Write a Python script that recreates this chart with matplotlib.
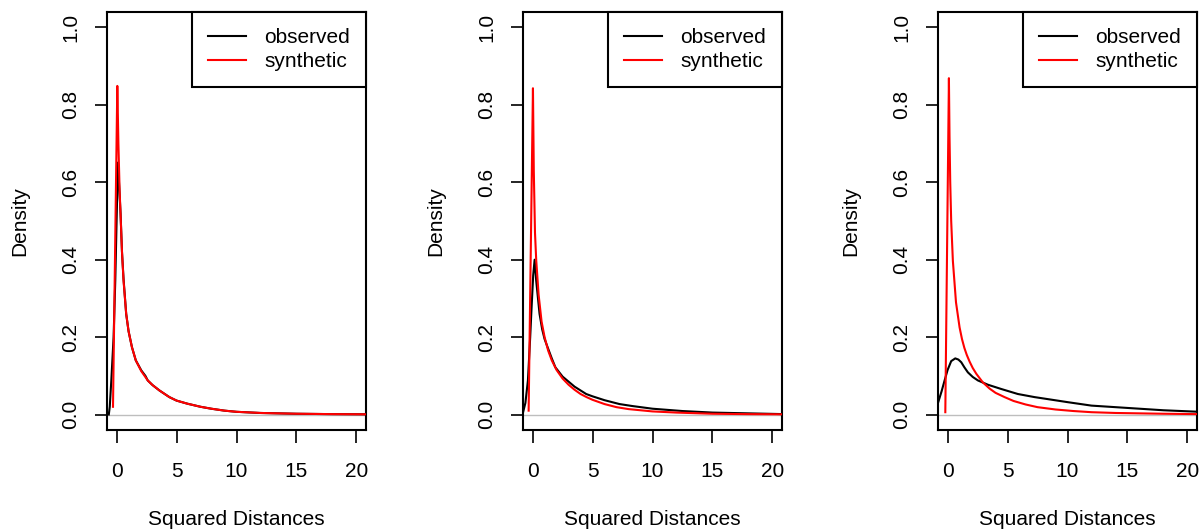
import matplotlib
matplotlib.use("Agg")
import matplotlib.pyplot as plt

plt.rcParams['font.family'] = ['Liberation Sans', 'DejaVu Sans']

# values (density curves of squared distances)
obs1_x = [-0.65, -0.57, -0.44, -0.25, -0.11, 0.0, 0.11, 0.2, 0.33, 0.45, 0.58, 0.8, 1.0, 1.28, 1.6, 2.06, 2.4, 2.6, 3.0, 3.58, 4.4, 5.0, 5.9, 7.0, 7.9, 9.0, 10.0, 12.0, 15.0, 18.0, 21.0]
obs1_y = [0.0, 0.02, 0.088, 0.20, 0.346, 0.50, 0.651, 0.60, 0.52, 0.42, 0.35, 0.26, 0.215, 0.174, 0.14, 0.114, 0.10, 0.088, 0.076, 0.062, 0.045, 0.036, 0.028, 0.02, 0.015, 0.010, 0.007, 0.004, 0.002, 0.001, 0.0005]
syn1_x = [-0.3, 0.06, 0.15, 0.25, 0.33, 0.45, 0.58, 0.8, 1.0, 1.28, 1.6, 2.06, 2.6, 3.0, 3.58, 4.4, 5.0, 5.9, 7.0, 7.9, 9.0, 10.0, 12.0, 15.0, 18.0, 21.0]
syn1_y = [0.02, 0.849, 0.70, 0.58, 0.518, 0.42, 0.346, 0.26, 0.215, 0.174, 0.14, 0.112, 0.088, 0.076, 0.062, 0.045, 0.036, 0.028, 0.02, 0.015, 0.010, 0.007, 0.004, 0.002, 0.001, 0.0005]

obs2_x = [-0.8, -0.6, -0.39, -0.2, -0.11, 0.05, 0.17, 0.3, 0.45, 0.58, 0.8, 1.0, 1.25, 1.6, 1.9, 2.5, 3.0, 3.5, 4.47, 5.0, 6.0, 7.25, 8.3, 10.0, 12.5, 15.0, 18.0, 21.0]
obs2_y = [0.005, 0.03, 0.088, 0.20, 0.26, 0.36, 0.40, 0.346, 0.30, 0.26, 0.22, 0.195, 0.174, 0.145, 0.122, 0.098, 0.085, 0.072, 0.053, 0.047, 0.037, 0.027, 0.022, 0.015, 0.009, 0.005, 0.003, 0.001]
syn2_x = [-0.33, 0.03, 0.1, 0.2, 0.3, 0.5, 0.75, 1.0, 1.3, 1.6, 2.0, 2.5, 3.0, 3.5, 4.0, 4.5, 5.0, 6.0, 7.0, 8.0, 10.0, 12.0, 15.0, 18.0, 21.0]
syn2_y = [0.01, 0.843, 0.63, 0.47, 0.40, 0.31, 0.24, 0.20, 0.165, 0.14, 0.115, 0.093, 0.077, 0.064, 0.053, 0.045, 0.038, 0.027, 0.019, 0.014, 0.008, 0.005, 0.002, 0.001, 0.0005]

obs3_x = [-0.8, -0.5, -0.25, 0.0, 0.3, 0.64, 0.9, 1.14, 1.4, 1.69, 2.1, 2.53, 3.36, 4.47, 5.86, 7.25, 8.1, 10.0, 12.0, 14.0, 16.0, 18.0, 21.0]
obs3_y = [0.03, 0.06, 0.088, 0.115, 0.138, 0.145, 0.142, 0.135, 0.122, 0.109, 0.097, 0.088, 0.077, 0.066, 0.053, 0.045, 0.041, 0.032, 0.023, 0.019, 0.015, 0.011, 0.007]
syn3_x = [-0.19, 0.11, 0.16, 0.22, 0.3, 0.44, 0.7, 1.0, 1.2, 1.4, 1.6, 1.83, 2.1, 2.4, 2.94, 3.5, 4.0, 4.75, 5.5, 6.5, 7.5, 9.0, 10.5, 12.0, 14.0, 16.0, 18.0, 21.0]
syn3_y = [0.006, 0.869, 0.72, 0.60, 0.50, 0.397, 0.29, 0.225, 0.195, 0.172, 0.154, 0.137, 0.12, 0.105, 0.083, 0.067, 0.056, 0.045, 0.035, 0.026, 0.019, 0.013, 0.009, 0.006, 0.004, 0.003, 0.002, 0.001]

panels = [(obs1_x, obs1_y, syn1_x, syn1_y),
          (obs2_x, obs2_y, syn2_x, syn2_y),
          (obs3_x, obs3_y, syn3_x, syn3_y)]

x_ticks = [0, 5, 10, 15, 20]
y_ticks = [0.0, 0.2, 0.4, 0.6, 0.8, 1.0]

W, H = 1200, 529
fig = plt.figure(figsize=(W / 100, H / 100), dpi=100)
lefts = [107, 523, 938]

for left, (ox, oy, sx, sy) in zip(lefts, panels):
    ax = fig.add_axes([left / W, (H - 430) / H, 259 / W, 418 / H])
    ax.axhline(0, color='#bebebe', lw=1, zorder=1)
    ax.plot(ox, oy, color='black', lw=1.5, label='observed', zorder=2)
    ax.plot(sx, sy, color='red', lw=1.5, label='synthetic', zorder=3)
    ax.set_xlim(-0.8, 20.8)
    ax.set_ylim(-0.04, 1.04)
    ax.set_xticks(x_ticks)
    ax.set_xticklabels([str(t) for t in x_ticks])
    ax.set_yticks(y_ticks)
    ax.set_yticklabels(['%.1f' % t for t in y_ticks], rotation=90, va='center')
    ax.tick_params(direction='out', length=9, width=1.2, labelsize=15, pad=10)
    ax.tick_params(axis='x', pad=14)
    for s in ax.spines.values():
        s.set_linewidth(1.5)
    ax.set_xlabel('Squared Distances', fontsize=15)
    ax.xaxis.set_label_coords(0.5, -0.192)
    ax.set_ylabel('Density', fontsize=15)
    ax.yaxis.set_label_coords(-0.3, 0.5)
    leg = ax.legend(loc='upper right', borderaxespad=0, fontsize=15, fancybox=False,
                    framealpha=1, edgecolor='black', handlelength=1.8,
                    handletextpad=0.9, borderpad=0.76, labelspacing=0.25)
    leg.get_frame().set_linewidth(1.5)

fig.savefig('out.png', dpi=100)
